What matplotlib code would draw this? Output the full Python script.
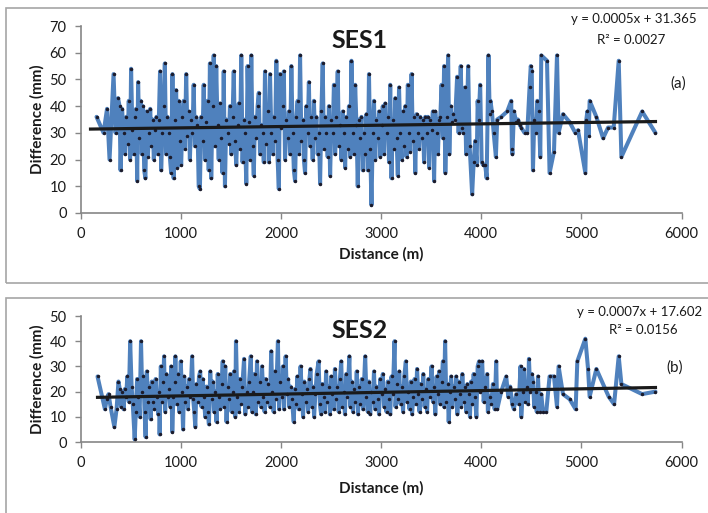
import matplotlib
matplotlib.use("Agg")
import matplotlib.pyplot as plt
from matplotlib.patches import Rectangle

plt.rcParams['font.family'] = ['Lato', 'DejaVu Sans']

# SES1: distance (m) and difference (mm)
ses1_x = [160, 230, 265, 290, 330, 350, 375, 390, 400, 415, 430, 445, 458, 470, 482, 495,
          505, 518, 530, 542, 555, 566, 575, 588, 600, 612, 624, 636, 648, 660, 672, 684,
          696, 708, 720, 732, 745, 758, 770, 782, 794, 805, 818, 830, 842, 855, 868, 880,
          892, 905, 918, 930, 942, 955, 967, 980, 992, 1005, 1018, 1030, 1042, 1055, 1068,
          1080, 1092, 1105, 1118, 1130, 1142, 1155, 1168, 1180, 1192, 1205, 1218, 1230,
          1242, 1255, 1268, 1280, 1292, 1305, 1318, 1330, 1342, 1355, 1368, 1380, 1392,
          1405, 1418, 1430, 1442, 1455, 1468, 1480, 1492, 1505, 1518, 1530, 1542, 1555,
          1568, 1580, 1592, 1605, 1618, 1630, 1642, 1655, 1668, 1680, 1692, 1705, 1718,
          1730, 1742, 1755, 1768, 1780, 1792, 1805, 1818, 1830, 1842, 1855, 1868, 1880,
          1892, 1905, 1918, 1930, 1942, 1955, 1968, 1980, 1992, 2005, 2018, 2030, 2042,
          2055, 2068, 2080, 2092, 2105, 2118, 2130, 2142, 2155, 2168, 2180, 2192, 2205,
          2218, 2230, 2242, 2255, 2268, 2280, 2292, 2305, 2318, 2330, 2342, 2355, 2368,
          2380, 2392, 2405, 2418, 2430, 2442, 2455, 2468, 2480, 2492, 2505, 2518, 2530,
          2542, 2555, 2568, 2580, 2592, 2605, 2618, 2630, 2642, 2655, 2668, 2680, 2692,
          2705, 2718, 2730, 2742, 2755, 2768, 2780, 2792, 2805, 2818, 2830, 2842, 2855,
          2868, 2880, 2892, 2905, 2918, 2930, 2942, 2955, 2968, 2980, 2992, 3005, 3018,
          3030, 3042, 3055, 3068, 3080, 3092, 3105, 3118, 3130, 3142, 3155, 3168, 3180,
          3192, 3205, 3218, 3230, 3242, 3255, 3268, 3280, 3292, 3305, 3318, 3330, 3342,
          3355, 3368, 3380, 3392, 3405, 3418, 3430, 3442, 3455, 3468, 3480, 3492, 3505,
          3518, 3530, 3542, 3555, 3568, 3580, 3592, 3605, 3618, 3630, 3642, 3655, 3670,
          3682, 3695, 3708, 3720, 3740, 3760, 3775, 3796, 3810, 3822, 3837, 3850, 3870,
          3885, 3910, 3925, 3940, 3955, 3965, 3975, 3990, 4005, 4020, 4040, 4055, 4073,
          4085, 4093, 4107, 4125, 4147, 4160, 4200, 4260, 4300, 4307, 4312, 4327, 4350,
          4367, 4385, 4400, 4433, 4460, 4483, 4495, 4505, 4517, 4530, 4545, 4560, 4575,
          4590, 4600, 4657, 4683, 4727, 4757, 4773, 4817, 4883, 4940, 4967, 5040, 5050,
          5060, 5073, 5083, 5150, 5217, 5267, 5323, 5373, 5400, 5607, 5740]
ses1_y = [36, 30, 39, 20, 52, 30, 43, 40, 16, 39, 30, 22, 36, 26, 42, 20,
          54, 31, 22, 36, 39, 12, 49, 28, 42, 22, 40, 16, 13, 38, 21, 30,
          39, 25, 35, 20, 31, 36, 22, 35, 53, 16, 30, 40, 56, 22, 36, 30,
          21, 15, 52, 13, 35, 46, 17, 42, 27, 18, 36, 42, 24, 52, 29,
          38, 20, 35, 30, 48, 25, 36, 33, 10, 9, 36, 27, 48,
          20, 34, 42, 16, 56, 13, 40, 59, 25, 55, 33, 20, 41,
          28, 15, 53, 10, 35, 30, 26, 40, 22, 36, 53, 27, 18,
          33, 41, 24, 59, 19, 35, 30, 11, 55, 34, 20, 59, 25,
          14, 36, 28, 40, 45, 22, 33, 30, 19, 53, 26, 38, 19,
          52, 30, 22, 36, 27, 57, 20, 9, 52, 32, 40, 53, 20,
          35, 28, 38, 22, 55, 30, 16, 12, 36, 42, 22, 59, 27,
          35, 20, 15, 40, 30, 49, 25, 36, 20, 42, 28, 36, 22,
          30, 11, 38, 56, 24, 36, 30, 21, 40, 14, 35, 30, 48,
          22, 36, 53, 25, 33, 20, 38, 30, 17, 36, 24, 40, 21,
          57, 30, 22, 48, 33, 10, 35, 28, 36, 16, 30, 22, 37,
          16, 52, 24, 3, 30, 42, 20, 35, 28, 38, 21, 33, 40,
          22, 41, 30, 36, 19, 48, 13, 35, 24, 43, 28, 14, 47,
          30, 20, 38, 25, 40, 21, 48, 30, 23, 52, 27, 36, 15,
          37, 30, 24, 36, 28, 35, 19, 36, 30, 36, 17, 35, 31,
          38, 12, 38, 30, 22, 35, 36, 48, 28, 55, 15, 36, 59,
          22, 40, 34, 37, 35, 51, 30, 55, 32, 30, 47, 22, 55,
          25, 7, 19, 27, 18, 42, 35, 48, 19, 18, 18, 13, 59,
          37, 42, 38, 30, 21, 35, 36, 38, 42, 24, 22, 38, 34,
          35, 33, 32, 30, 30, 47, 55, 53, 16, 35, 30, 42, 38,
          21, 59, 57, 15, 23, 59, 30, 37, 34, 30, 31, 15, 35,
          38, 29, 42, 36, 28, 32, 32, 57, 21, 38, 30]

# SES2
ses2_x = [170, 244, 262, 280, 300, 338, 360, 379, 392, 405, 418, 430, 442, 455, 468, 482,
          496, 510, 522, 541, 552, 565, 578, 590, 604, 616, 628, 640, 650, 662, 675, 688,
          700, 712, 725, 738, 750, 762, 775, 785, 790, 802, 815, 828, 834, 845, 858, 870,
          882, 895, 905, 916, 928, 940, 947, 960, 972, 985, 1001, 1012, 1024, 1035, 1048,
          1060, 1072, 1085, 1098, 1114, 1125, 1136, 1146, 1158, 1170, 1183, 1195, 1208,
          1220, 1232, 1245, 1258, 1270, 1282, 1295, 1308, 1320, 1332, 1345, 1358, 1370,
          1382, 1395, 1408, 1420, 1432, 1445, 1458, 1470, 1482, 1495, 1508, 1520, 1532,
          1545, 1552, 1565, 1578, 1590, 1602, 1615, 1633, 1645, 1658, 1670, 1683, 1700,
          1712, 1725, 1738, 1750, 1762, 1775, 1788, 1800, 1812, 1825, 1838, 1850, 1862,
          1875, 1890, 1904, 1915, 1928, 1940, 1952, 1971, 1982, 1995, 2008, 2020, 2032,
          2048, 2060, 2072, 2085, 2098, 2110, 2129, 2140, 2152, 2165, 2178, 2197, 2210,
          2222, 2235, 2248, 2260, 2272, 2285, 2296, 2308, 2320, 2332, 2345, 2358, 2377,
          2390, 2402, 2415, 2428, 2440, 2452, 2465, 2478, 2490, 2503, 2515, 2528, 2540,
          2552, 2565, 2578, 2590, 2603, 2615, 2628, 2640, 2653, 2665, 2684, 2695, 2708,
          2720, 2732, 2745, 2758, 2770, 2782, 2795, 2808, 2820, 2842, 2855, 2868, 2880,
          2892, 2905, 2918, 2930, 2942, 2955, 2968, 2980, 2992, 3005, 3018, 3030, 3042,
          3055, 3068, 3080, 3092, 3105, 3118, 3135, 3145, 3158, 3170, 3182, 3195, 3208,
          3220, 3232, 3248, 3260, 3272, 3285, 3298, 3310, 3322, 3335, 3348, 3360, 3372,
          3385, 3398, 3410, 3422, 3435, 3448, 3460, 3472, 3485, 3505, 3518, 3530, 3542,
          3555, 3568, 3580, 3592, 3605, 3618, 3628, 3640, 3652, 3664, 3676, 3688, 3700,
          3712, 3725, 3738, 3750, 3762, 3775, 3788, 3800, 3812, 3825, 3838, 3850, 3862,
          3875, 3888, 3900, 3912, 3925, 3938, 3952, 3965, 3979, 3992, 4010, 4025, 4040,
          4060, 4067, 4085, 4100, 4117, 4135, 4150, 4160, 4200, 4250, 4270, 4290, 4310,
          4327, 4350, 4375, 4393, 4400, 4415, 4427, 4440, 4455, 4466, 4477, 4490, 4505,
          4517, 4530, 4545, 4555, 4567, 4583, 4600, 4617, 4650, 4683, 4727, 4757, 4773,
          4817, 4883, 4943, 4960, 5040, 5067, 5083, 5150, 5273, 5327, 5373, 5400, 5607,
          5740]
ses2_y = [26, 13, 17, 19, 14, 6, 13, 24, 21, 14, 20, 13, 21, 18, 26, 16,
          40, 22, 15, 1, 12, 25, 18, 10, 40, 20, 26, 12, 2, 28, 16, 22,
          9, 24, 16, 13, 25, 18, 11, 20, 3, 30, 16, 24, 34, 12, 27, 18,
          21, 14, 30, 4, 18, 24, 34, 15, 27, 12, 32, 20, 5, 26, 16,
          22, 13, 25, 18, 34, 17, 12, 6, 23, 16, 26, 28, 14,
          25, 18, 10, 22, 12, 7, 28, 17, 24, 12, 20, 8, 27,
          18, 13, 23, 32, 14, 30, 8, 22, 17, 27, 12, 20, 28,
          10, 40, 18, 12, 25, 15, 22, 33, 11, 20, 14, 24, 34,
          12, 20, 27, 11, 32, 16, 24, 14, 30, 18, 12, 25, 16,
          23, 14, 36, 20, 12, 28, 17, 40, 13, 24, 18, 30, 13,
          34, 19, 25, 14, 22, 17, 8, 21, 15, 26, 13, 30, 19,
          10, 24, 16, 21, 12, 25, 29, 14, 22, 10, 19, 27, 32,
          15, 11, 23, 18, 12, 28, 16, 22, 11, 26, 19, 13, 29,
          17, 22, 12, 25, 32, 14, 20, 11, 27, 18, 34, 14, 24,
          12, 21, 16, 28, 11, 22, 15, 25, 13, 34, 18, 12, 24,
          11, 20, 16, 28, 13, 22, 17, 11, 25, 19, 27, 14, 21,
          12, 24, 17, 11, 26, 19, 40, 14, 23, 17, 28, 15, 22,
          12, 26, 32, 16, 20, 13, 24, 11, 18, 25, 15, 29, 19,
          12, 23, 17, 27, 14, 21, 12, 25, 18, 30, 16, 22, 11,
          26, 19, 28, 15, 24, 32, 14, 40, 16, 23, 8, 20, 26,
          14, 22, 17, 26, 11, 24, 19, 14, 27, 16, 22, 12, 23,
          19, 10, 24, 15, 27, 18, 10, 30, 32, 20, 32, 16, 22,
          27, 12, 18, 15, 23, 13, 32, 13, 20, 26, 18, 22, 15,
          13, 19, 15, 30, 10, 20, 29, 16, 22, 15, 33, 20, 27,
          24, 14, 20, 12, 26, 12, 19, 12, 12, 26, 26, 14, 30,
          19, 17, 13, 32, 41, 29, 18, 29, 18, 15, 34, 23, 19,
          20]

# linear trendline coefficients shown on the chart
trend1 = (0.0005, 31.365, 100, 5740)
trend2 = (0.0007, 17.602, 170, 5740)

W, H = 708, 513
fig = plt.figure(figsize=(W / 100, H / 100), dpi=100)

def fx(px):
    return px / W

def fy(py):
    return 1 - py / H

# panel frames
fig.patches.append(Rectangle((fx(6), fy(283)), 1.0, fy(8) - fy(283), transform=fig.transFigure,
                             fill=False, edgecolor='#a6a6a6', lw=1.2))
fig.patches.append(Rectangle((fx(6), -0.05), 1.0, fy(298) + 0.05, transform=fig.transFigure,
                             fill=False, edgecolor='#a6a6a6', lw=1.2))

ax1 = fig.add_axes([fx(80.5), fy(213), fx(681.5) - fx(80.5), fy(26) - fy(213)])
ax2 = fig.add_axes([fx(80.5), fy(442), fx(681.5) - fx(80.5), fy(316) - fy(442)])

blue = '#4f81bd'
for ax, x, y, trend, ymax in [(ax1, ses1_x, ses1_y, trend1, 70), (ax2, ses2_x, ses2_y, trend2, 50)]:
    ax.plot(x, y, color=blue, lw=2.9, solid_joinstyle='round', solid_capstyle='round', zorder=2)
    ax.plot(x, y, ls='none', marker='.', ms=3, color='#1c1c2c', zorder=3)
    m, c, x0, x1 = trend
    ax.plot([x0, x1], [m * x0 + c, m * x1 + c], color='#1a1a1a', lw=2.3, zorder=4)
    ax.set_xlim(0, 6000)
    ax.set_ylim(0, ymax)
    ax.set_xticks(range(0, 6001, 1000))
    ax.set_yticks(range(0, ymax + 1, 10))
    for s in ['top', 'right']:
        ax.spines[s].set_visible(False)
    for s in ['left', 'bottom']:
        ax.spines[s].set_color('#868686')
        ax.spines[s].set_linewidth(1.2)
    ax.tick_params(direction='out', length=4, width=1, color='#868686',
                   labelsize=10.5, labelcolor='#1a1a1a', pad=6)
    ax.patch.set_alpha(0)

# axis labels
for yc, yl in [(119, 254), (379, 488)]:
    fig.text(fx(37), fy(yc), 'Difference (mm)', rotation=90, ha='center', va='center',
             fontsize=11, fontweight='bold', color='#1a1a1a')
    fig.text(fx(381), fy(yl), 'Distance (m)', ha='center', va='center',
             fontsize=11, fontweight='bold', color='#1a1a1a')

fig.text(fx(360), fy(41), 'SES1', ha='center', va='center', fontsize=18, fontweight='bold', color='#1a1a1a')
fig.text(fx(360), fy(330), 'SES2', ha='center', va='center', fontsize=18, fontweight='bold', color='#1a1a1a')

fig.text(fx(697), fy(19), 'y = 0.0005x + 31.365', ha='right', va='center', fontsize=9.5, color='#1a1a1a')
fig.text(fx(631), fy(40), 'R² = 0.0027', ha='center', va='center', fontsize=9.5, color='#1a1a1a')
fig.text(fx(577), fy(312), 'y = 0.0007x + 17.602', ha='left', va='center', fontsize=9.5, color='#1a1a1a')
fig.text(fx(643), fy(330), 'R² = 0.0156', ha='center', va='center', fontsize=9.5, color='#1a1a1a')
fig.text(fx(678), fy(84), '(a)', ha='center', va='center', fontsize=11, color='#1a1a1a')
fig.text(fx(675), fy(368), '(b)', ha='center', va='center', fontsize=11, color='#1a1a1a')

fig.savefig('out.png', dpi=100)
